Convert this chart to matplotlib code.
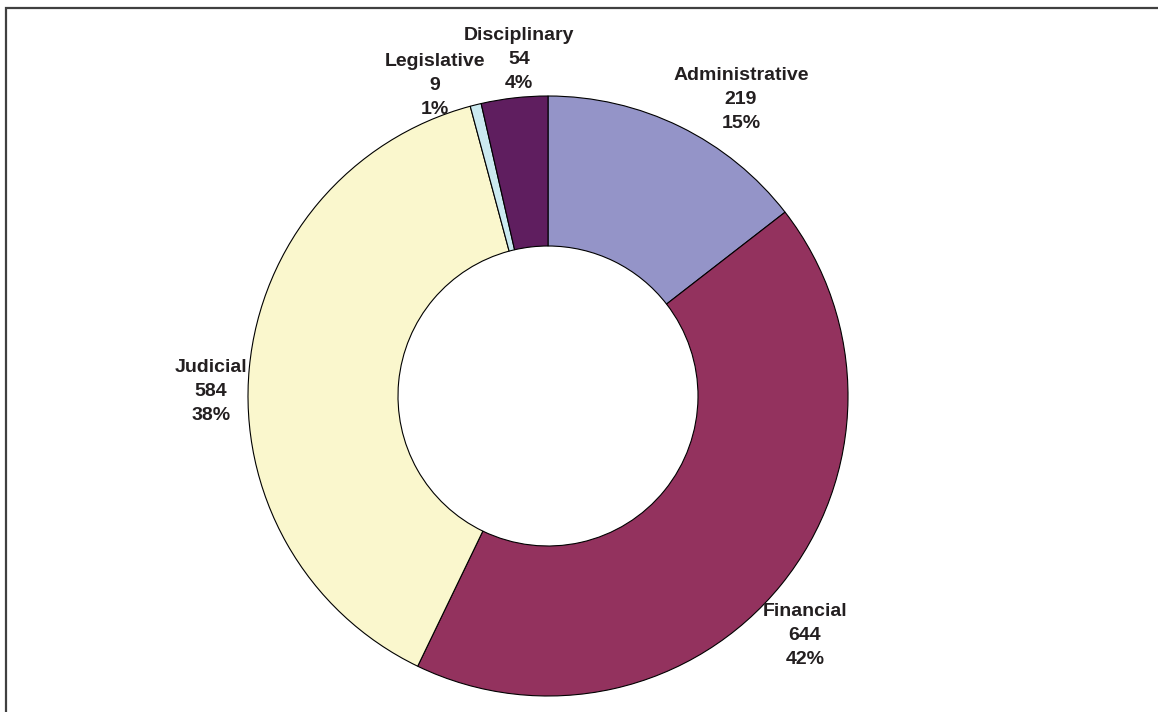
import matplotlib.pyplot as plt

plt.rcParams['font.family'] = ['Liberation Sans', 'DejaVu Sans']

# data
categories = ['Administrative', 'Financial', 'Judicial', 'Legislative', 'Disciplinary']
counts = [219, 644, 584, 9, 54]
percents = ['15%', '42%', '38%', '1%', '4%']
colors = ['#9494C8', '#93325E', '#FAF7CD', '#CBEAF0', '#5F1E5F']

# label anchor points (pixels, from top-left) - centre of middle line
label_pos = [(741, 99), (805, 636), (211, 391), (435, 86), (519, 60)]
line_step = 24

W, H = 1158, 712
fig = plt.figure(figsize=(W / 100, H / 100), dpi=100)
ax = fig.add_axes([0, 0, 1, 1])
ax.axis('off')

ax.pie(counts, colors=colors, center=(548, H - 396), radius=300,
       startangle=90, counterclock=False,
       wedgeprops=dict(width=150, edgecolor='black', linewidth=0.8))
ax.set_xlim(0, W)
ax.set_ylim(0, H)
ax.set_aspect('auto')

for cat, n, p, (x, y) in zip(categories, counts, percents, label_pos):
    for k, s in enumerate([cat, str(n), p]):
        ax.text(x, H - y - (k - 1) * line_step, s, ha='center', va='center',
                fontsize=14, fontweight='bold', color='#231F20')

# chart frame (left and top edges)
ax.plot([6, 6, W], [0, H - 8, H - 8], color='#404040', lw=1.6,
        solid_joinstyle='miter', clip_on=False)

fig.savefig('out.png', dpi=100)
